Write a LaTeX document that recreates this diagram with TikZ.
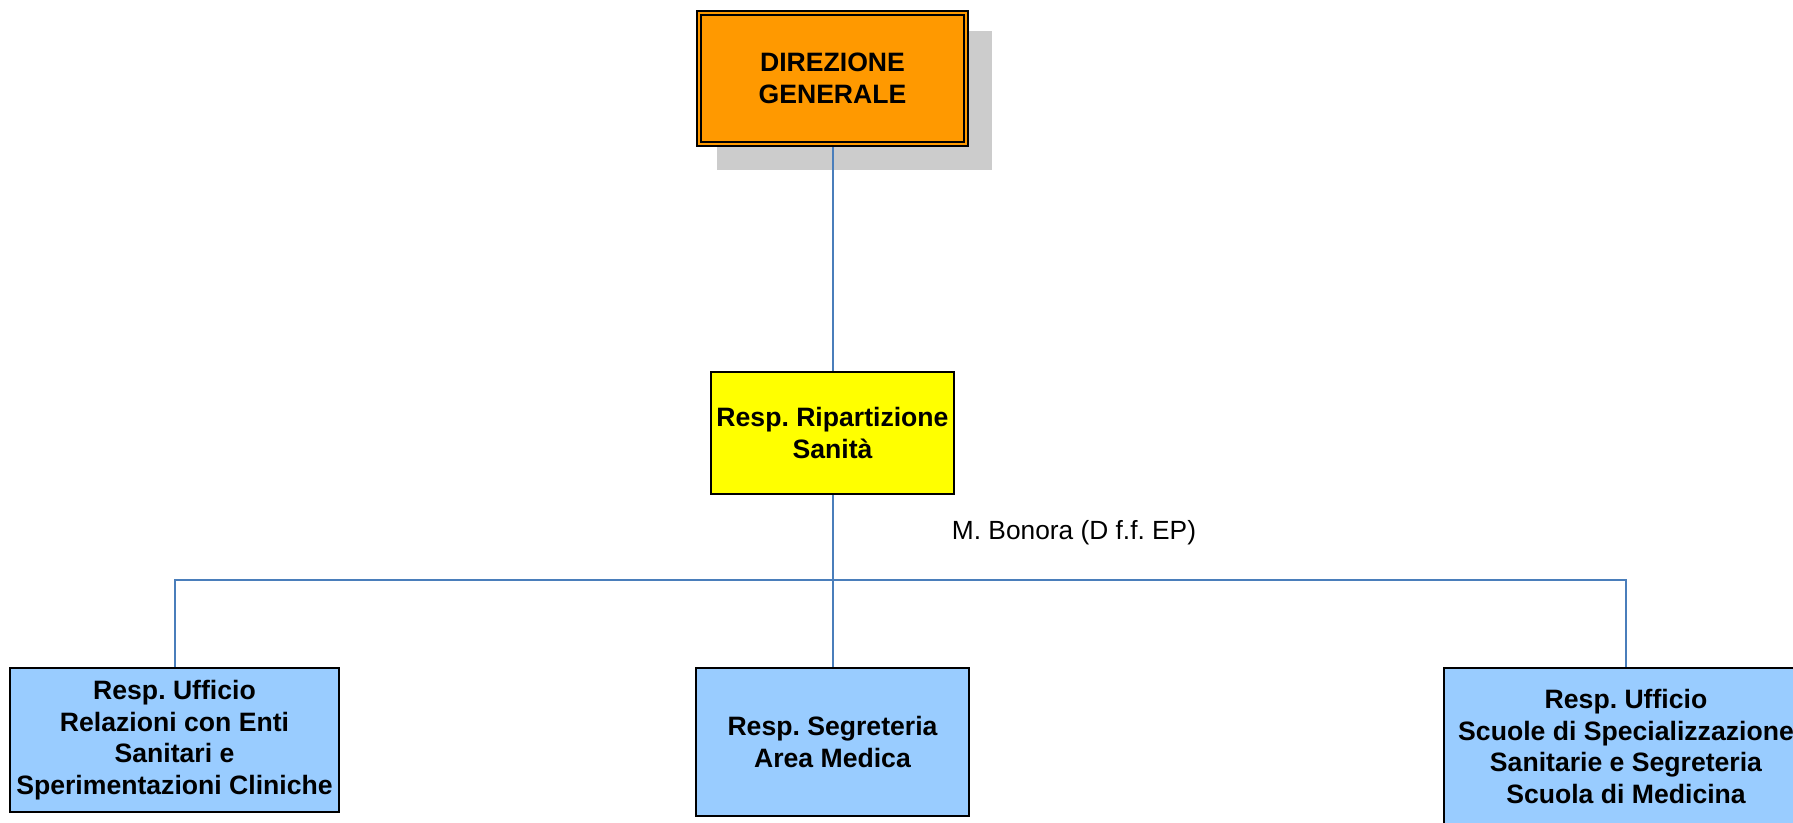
\documentclass[tikz,border=0pt]{standalone}
\usepackage{fontspec}
\setmainfont{Liberation Sans}
\usepackage{xcolor}
\usepackage{tikz}
\usetikzlibrary{arrows,shapes,backgrounds,calc,positioning}

\definecolor{dg_orange}{HTML}{FF9900}
\definecolor{rip_yellow}{HTML}{FFFF00}
\definecolor{uff_blue}{HTML}{99CCFF}
\definecolor{shade_gray}{HTML}{CCCCCC}
\definecolor{link_blue}{HTML}{4A7EBB}

\frenchspacing

\begin{document}
\begin{tikzpicture} [x=0.5pt, y=0.5pt,
		unit/.style={draw=black, line width=1pt, align=center, inner sep=1pt, font=\fontsize{13.3pt}{15.85pt}\selectfont\bfseries},
		link/.style={draw=link_blue, line width=1pt}]
		
		\clip (0,0) rectangle (1793,823);
		
		\begin{scope}
		
		\node (DG) [unit, fill=dg_orange, double=dg_orange, double distance=1.2pt, line width=0.9pt, minimum width=133.5pt, minimum height=65.5pt] at (832.5,744.5) {DIREZIONE\\GENERALE};
		
		\node (RIP) [unit, fill=rip_yellow, minimum width=121.5pt, minimum height=61pt] at ($(DG) + (0,-354.5)$) {Resp. Ripartizione\\Sanità};
		
		\node (BON) [anchor=base, inner sep=0pt] at ($(RIP) + (241.5,-107)$) {\fontsize{13.15pt}{15pt}\selectfont M. Bonora (D f.f. EP)};
		
		\coordinate (BAR) at ($(RIP.south) + (0,-85)$);
		
		\end{scope}
		
		
		\begin{scope}			% uffici
		
		\node (UFF_L) [unit, fill=uff_blue, minimum width=164.5pt, minimum height=72pt] at (174.5,83) {Resp. Ufficio\\Relazioni con Enti\\Sanitari e\\Sperimentazioni Cliniche};
		
		\node (SEG) [unit, fill=uff_blue, minimum width=136.5pt, minimum height=74pt] at ($(DG |- UFF_L) + (0,-2)$) {Resp. Segreteria\\Area Medica};
		
		\node (UFF_R) [unit, fill=uff_blue, minimum width=182pt, minimum height=78.5pt] at ($(UFF_L) + (1451.5,-6.5)$) {Resp. Ufficio\\Scuole di Specializzazione\\Sanitarie e Segreteria\\Scuola di Medicina};
		
		\end{scope}
		
		
		\begin{scope}[on background layer]
		
		\fill [shade_gray] ($(DG.south west) + (19,-25)$) rectangle ($(DG.north east) + (25,-19)$);
		
		\draw [link] (DG.south) -- (RIP.north);
		
		\draw [link] (RIP.south) -- (SEG.north);
		
		\draw [link] (UFF_L.north) -- (UFF_L.north |- BAR) -- (UFF_R.north |- BAR) -- (UFF_R.north);
		
		\end{scope}
		
\end{tikzpicture}
\end{document}
